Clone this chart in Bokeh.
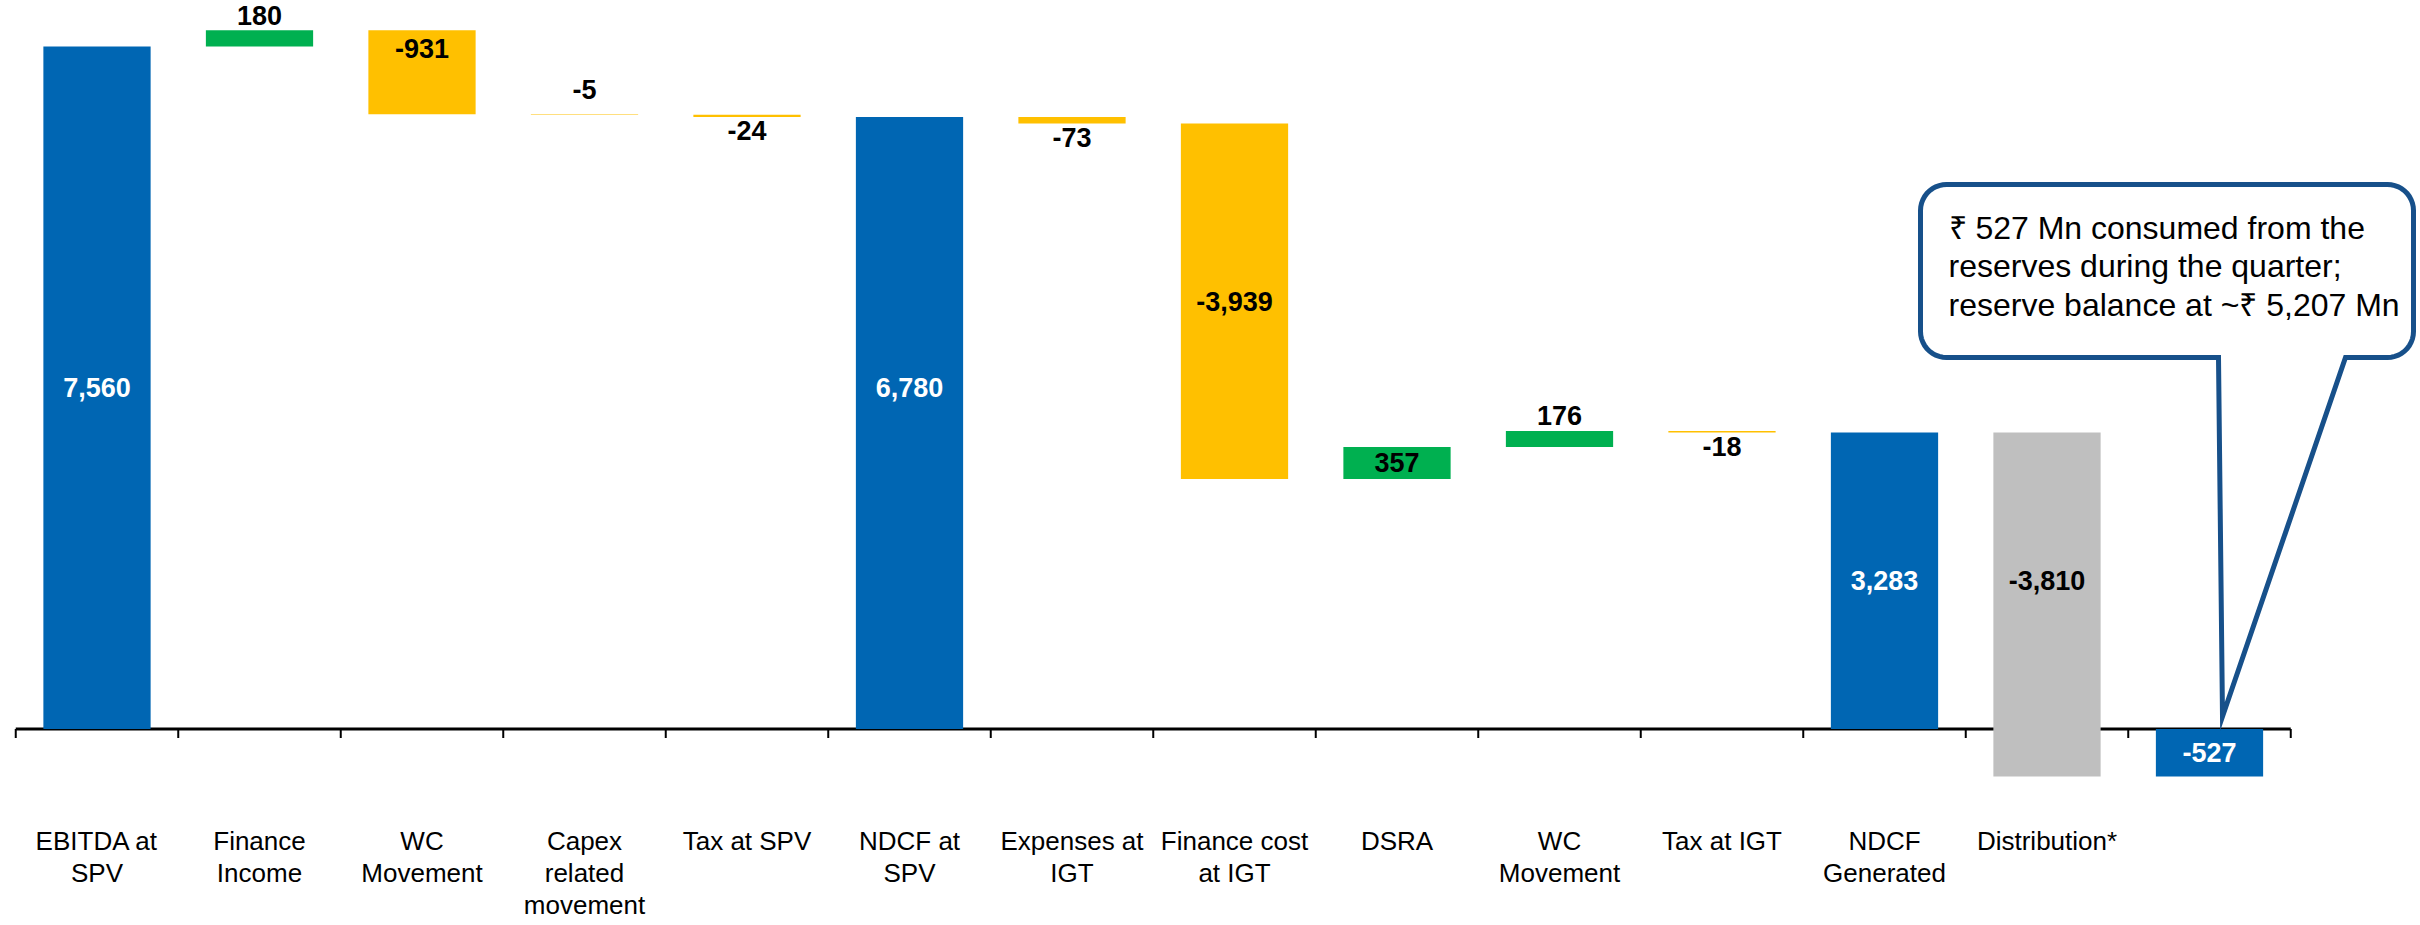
import numpy as np
from bokeh.plotting import figure
from bokeh.models import ColumnDataSource, Range1d
from bokeh.embed import file_html
from bokeh.resources import INLINE
from bokeh.core.properties import value

# ---------------- data ----------------
categories = ["EBITDA at\nSPV", "Finance\nIncome", "WC\nMovement", "Capex\nrelated\nmovement",
              "Tax at SPV", "NDCF at\nSPV", "Expenses at\nIGT", "Finance cost\nat IGT", "DSRA",
              "WC\nMovement", "Tax at IGT", "NDCF\nGenerated", "Distribution*", ""]
values = [7560, 180, -931, -5, -24, 6780, -73, -3939, 357, 176, -18, 3283, -3810, -527]
kinds = ["total", "delta", "delta", "delta", "delta", "total", "delta", "delta", "delta",
         "delta", "delta", "total", "distribution", "total"]
callout_lines = ["₹ 527 Mn consumed from the",
                 "reserves during the quarter;",
                 "reserve balance at ~₹ 5,207 Mn"]

# ---------------- styling / layout ----------------
W, H = 2420, 925
PX_PER_CAT = 162.5
X0 = -96.5 / PX_PER_CAT
AXIS_PX = 728.5                 # canvas y of the zero line
UPP = 7560 / 682.5              # data units per pixel (vertical)

def sx(px):
    return X0 + px / PX_PER_CAT

def sy(py):
    return (AXIS_PX - py) * UPP

BLUE, GREEN, GOLD, GREY = "#0066B3", "#00B050", "#FFC000", "#BFBFBF"
CALLOUT = "#17508A"
FONT = value("Liberation Sans")

# ---------------- waterfall geometry ----------------
n = len(values)
bottoms, tops, colors = [], [], []
running = 0
for v, k in zip(values, kinds):
    if k == "total":
        b, t = min(0, v), max(0, v)
        running = v
    else:
        start, end = running, running + v
        b, t = min(start, end), max(start, end)
        running = end
    bottoms.append(b)
    tops.append(t)
    if k == "total":
        colors.append(BLUE)
    elif k == "distribution":
        colors.append(GREY)
    else:
        colors.append(GREEN if v > 0 else GOLD)

xs = list(range(n))

p = figure(width=W, height=H, x_range=Range1d(X0, X0 + W / PX_PER_CAT),
           y_range=Range1d(sy(H), sy(0)), output_backend="svg", toolbar_location=None,
           x_axis_location=None, y_axis_location=None, min_border=0,
           outline_line_color=None, background_fill_color="white", border_fill_color="white")
p.grid.visible = False

# zero line with category boundary ticks
p.segment(x0=[-0.5], y0=[0], x1=[n - 0.5], y1=[0], line_color="black", line_width=3)
bounds = [i - 0.5 for i in range(n + 1)]
p.segment(x0=bounds, y0=[0] * len(bounds), x1=bounds, y1=[-9 * UPP] * len(bounds),
          line_color="black", line_width=2)

src = ColumnDataSource(dict(x=xs, bottom=bottoms, top=tops, color=colors))
p.vbar(x="x", width=0.66, bottom="bottom", top="top", fill_color="color",
       line_color=None, source=src)

# ---------------- value labels ----------------
placement = ["center", "above", "inside_top", "above", "below", "center", "below", "center",
             "center", "above", "below", "center", "center", "center"]
align_with = {5: 0, 12: 11}
extra_gap = {3: 10}
ly, lbase, loff, lcol = [], [], [], []
for i in range(n):
    b, t, pl = bottoms[i], tops[i], placement[i]
    if pl == "center":
        j = align_with.get(i, i)
        ly.append((bottoms[j] + tops[j]) / 2); lbase.append("middle"); loff.append(0)
    elif pl == "above":
        ly.append(t); lbase.append("alphabetic"); loff.append(-15 - extra_gap.get(i, 0))
    elif pl == "below":
        ly.append(b); lbase.append("top"); loff.append(4)
    else:
        ly.append(t); lbase.append("top"); loff.append(9)
    lcol.append("white" if kinds[i] == "total" else "black")
lab = ColumnDataSource(dict(x=xs, y=ly, text=[f"{v:,}" for v in values], base=lbase,
                            off=loff, color=lcol))
p.text(x="x", y="y", text="text", text_baseline="base", y_offset="off", text_color="color",
       text_align="center", text_font=FONT, text_font_size="27px", text_font_style="bold",
       source=lab)

# ---------------- category labels ----------------
cat_src = ColumnDataSource(dict(x=xs[:-1], y=[sy(825)] * (n - 1), text=categories[:-1]))
p.text(x="x", y="y", text="text", text_align="center", text_baseline="top",
       text_font=FONT, text_font_size="26px", text_line_height=1.08, text_color="black",
       source=cat_src)

# ---------------- callout ----------------
L, R, T, B, r = 1920, 2413, 184, 357, 26
bl, br, tip = 2218, 2345, (2222, 716)
def arc(cx, cy, a0, a1):
    a = np.radians(np.linspace(a0, a1, 12))
    return list(cx + r * np.cos(a)), list(cy + r * np.sin(a))
px, py = [], []
for seg in [arc(L + r, T + r, 180, 270), arc(R - r, T + r, 270, 360), arc(R - r, B - r, 0, 90)]:
    px += seg[0]; py += seg[1]
px += [br, tip[0], bl]; py += [B, tip[1], B]
seg = arc(L + r, B - r, 90, 180)
px += seg[0]; py += seg[1]
p.patch([sx(v) for v in px], [sy(v) for v in py], fill_color="white", line_color=CALLOUT,
        line_width=5, line_join="miter")
p.text(x=[sx(1948)] * 3, y=[sy(227 + 38.5 * k) for k in range(3)], text=callout_lines,
       text_align="left", text_baseline="alphabetic", text_font=FONT, text_font_size="32px",
       text_color="black")

open("out.html", "w").write(file_html(p, INLINE))
